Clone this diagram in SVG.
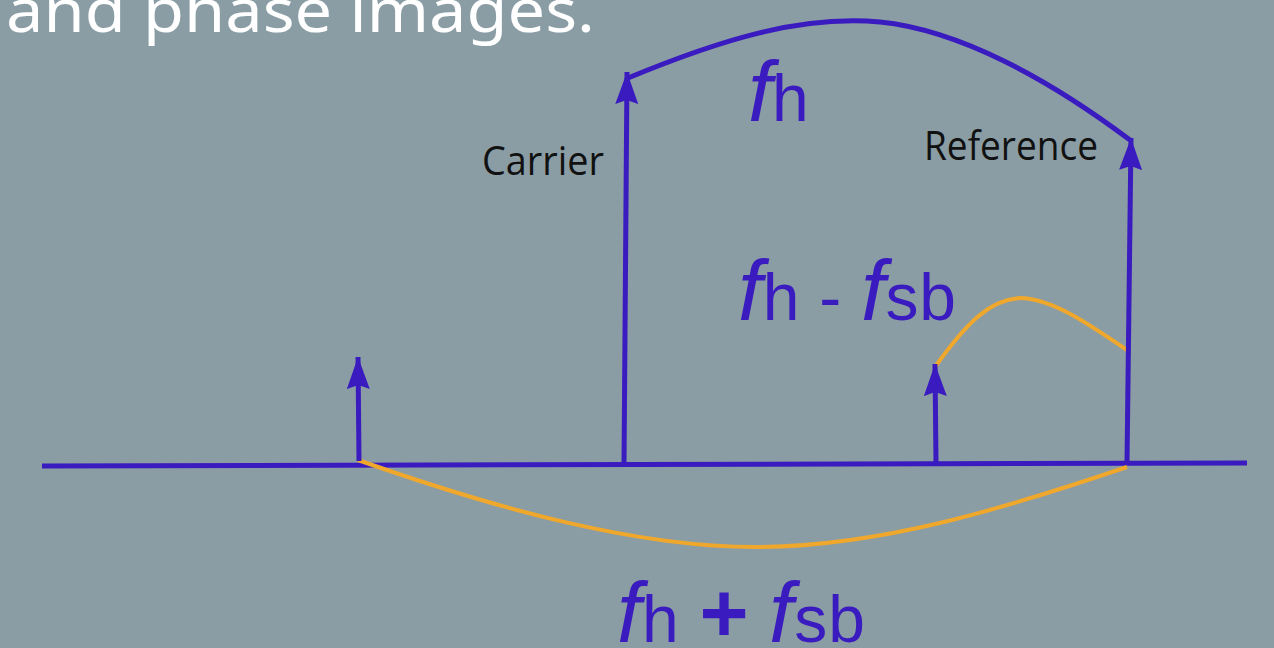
<svg xmlns="http://www.w3.org/2000/svg" width="1274" height="648" viewBox="0 0 1274 648">
<defs>
<style>
.blue{stroke:#3a1bbf;stroke-width:5;fill:none}
.orange{stroke:#f0a82c;stroke-width:4;fill:none}
.lbl{font-family:"Liberation Sans",Arial,sans-serif;fill:#3a1bbf;font-size:66px}
.f{font-style:italic;font-size:86px}
.name{font-family:"Open Sans","Noto Sans",sans-serif;fill:#111;font-size:40px}
</style>
<marker id="ah" viewBox="0 0 32 24" refX="32" refY="12" markerWidth="32" markerHeight="24" markerUnits="userSpaceOnUse" orient="auto">
<path d="M0,0.5 L32,12 L0,23.5 L4,12 Z" fill="#3a1bbf"/>
</marker>
</defs>
<rect width="1274" height="648" fill="#8a9da4"/>
<text x="6" y="32" font-family="Noto Sans, sans-serif" font-size="60" fill="#fff" textLength="589" lengthAdjust="spacingAndGlyphs">and phase images.</text>
<g id="connectors">
<line class="blue" x1="42" y1="466" x2="1247" y2="463"/>
<path class="blue" d="M628,78 C720,40 800,15 880,22 C960,30 1050,80 1130,140"/>
<path class="orange" d="M935,367 C965,325 990,298 1022,298 C1055,300 1090,325 1127,350"/>
<path class="orange" d="M358,460 C500,510 640,548 760,547 C880,546 1000,510 1127,467"/>
</g>
<g id="arrow-small-left"><line class="blue" x1="359" y1="461" x2="358" y2="357" marker-end="url(#ah)"/></g>
<g id="carrier"><line class="blue" x1="624" y1="464" x2="627" y2="72" marker-end="url(#ah)"/><text class="name" x="482" y="175" textLength="122" lengthAdjust="spacingAndGlyphs">Carrier</text></g>
<g id="arrow-small-right"><line class="blue" x1="936" y1="463" x2="935" y2="364" marker-end="url(#ah)"/></g>
<g id="reference"><line class="blue" x1="1127" y1="463" x2="1131" y2="138" marker-end="url(#ah)"/><text class="name" x="924" y="160" textLength="174" lengthAdjust="spacingAndGlyphs">Reference</text></g>
<g id="label-fh"><text class="lbl" x="748" y="121"><tspan class="f">f</tspan>h</text></g>
<g id="label-diff"><text class="lbl" x="738" y="320" textLength="218" lengthAdjust="spacing"><tspan class="f">f</tspan>h - <tspan class="f">f</tspan>sb</text></g>
<g id="label-sum"><text class="lbl" x="617" y="642" textLength="248" lengthAdjust="spacing"><tspan class="f">f</tspan>h <tspan font-size="84" font-weight="bold">+</tspan> <tspan class="f">f</tspan>sb</text></g>
</svg>
